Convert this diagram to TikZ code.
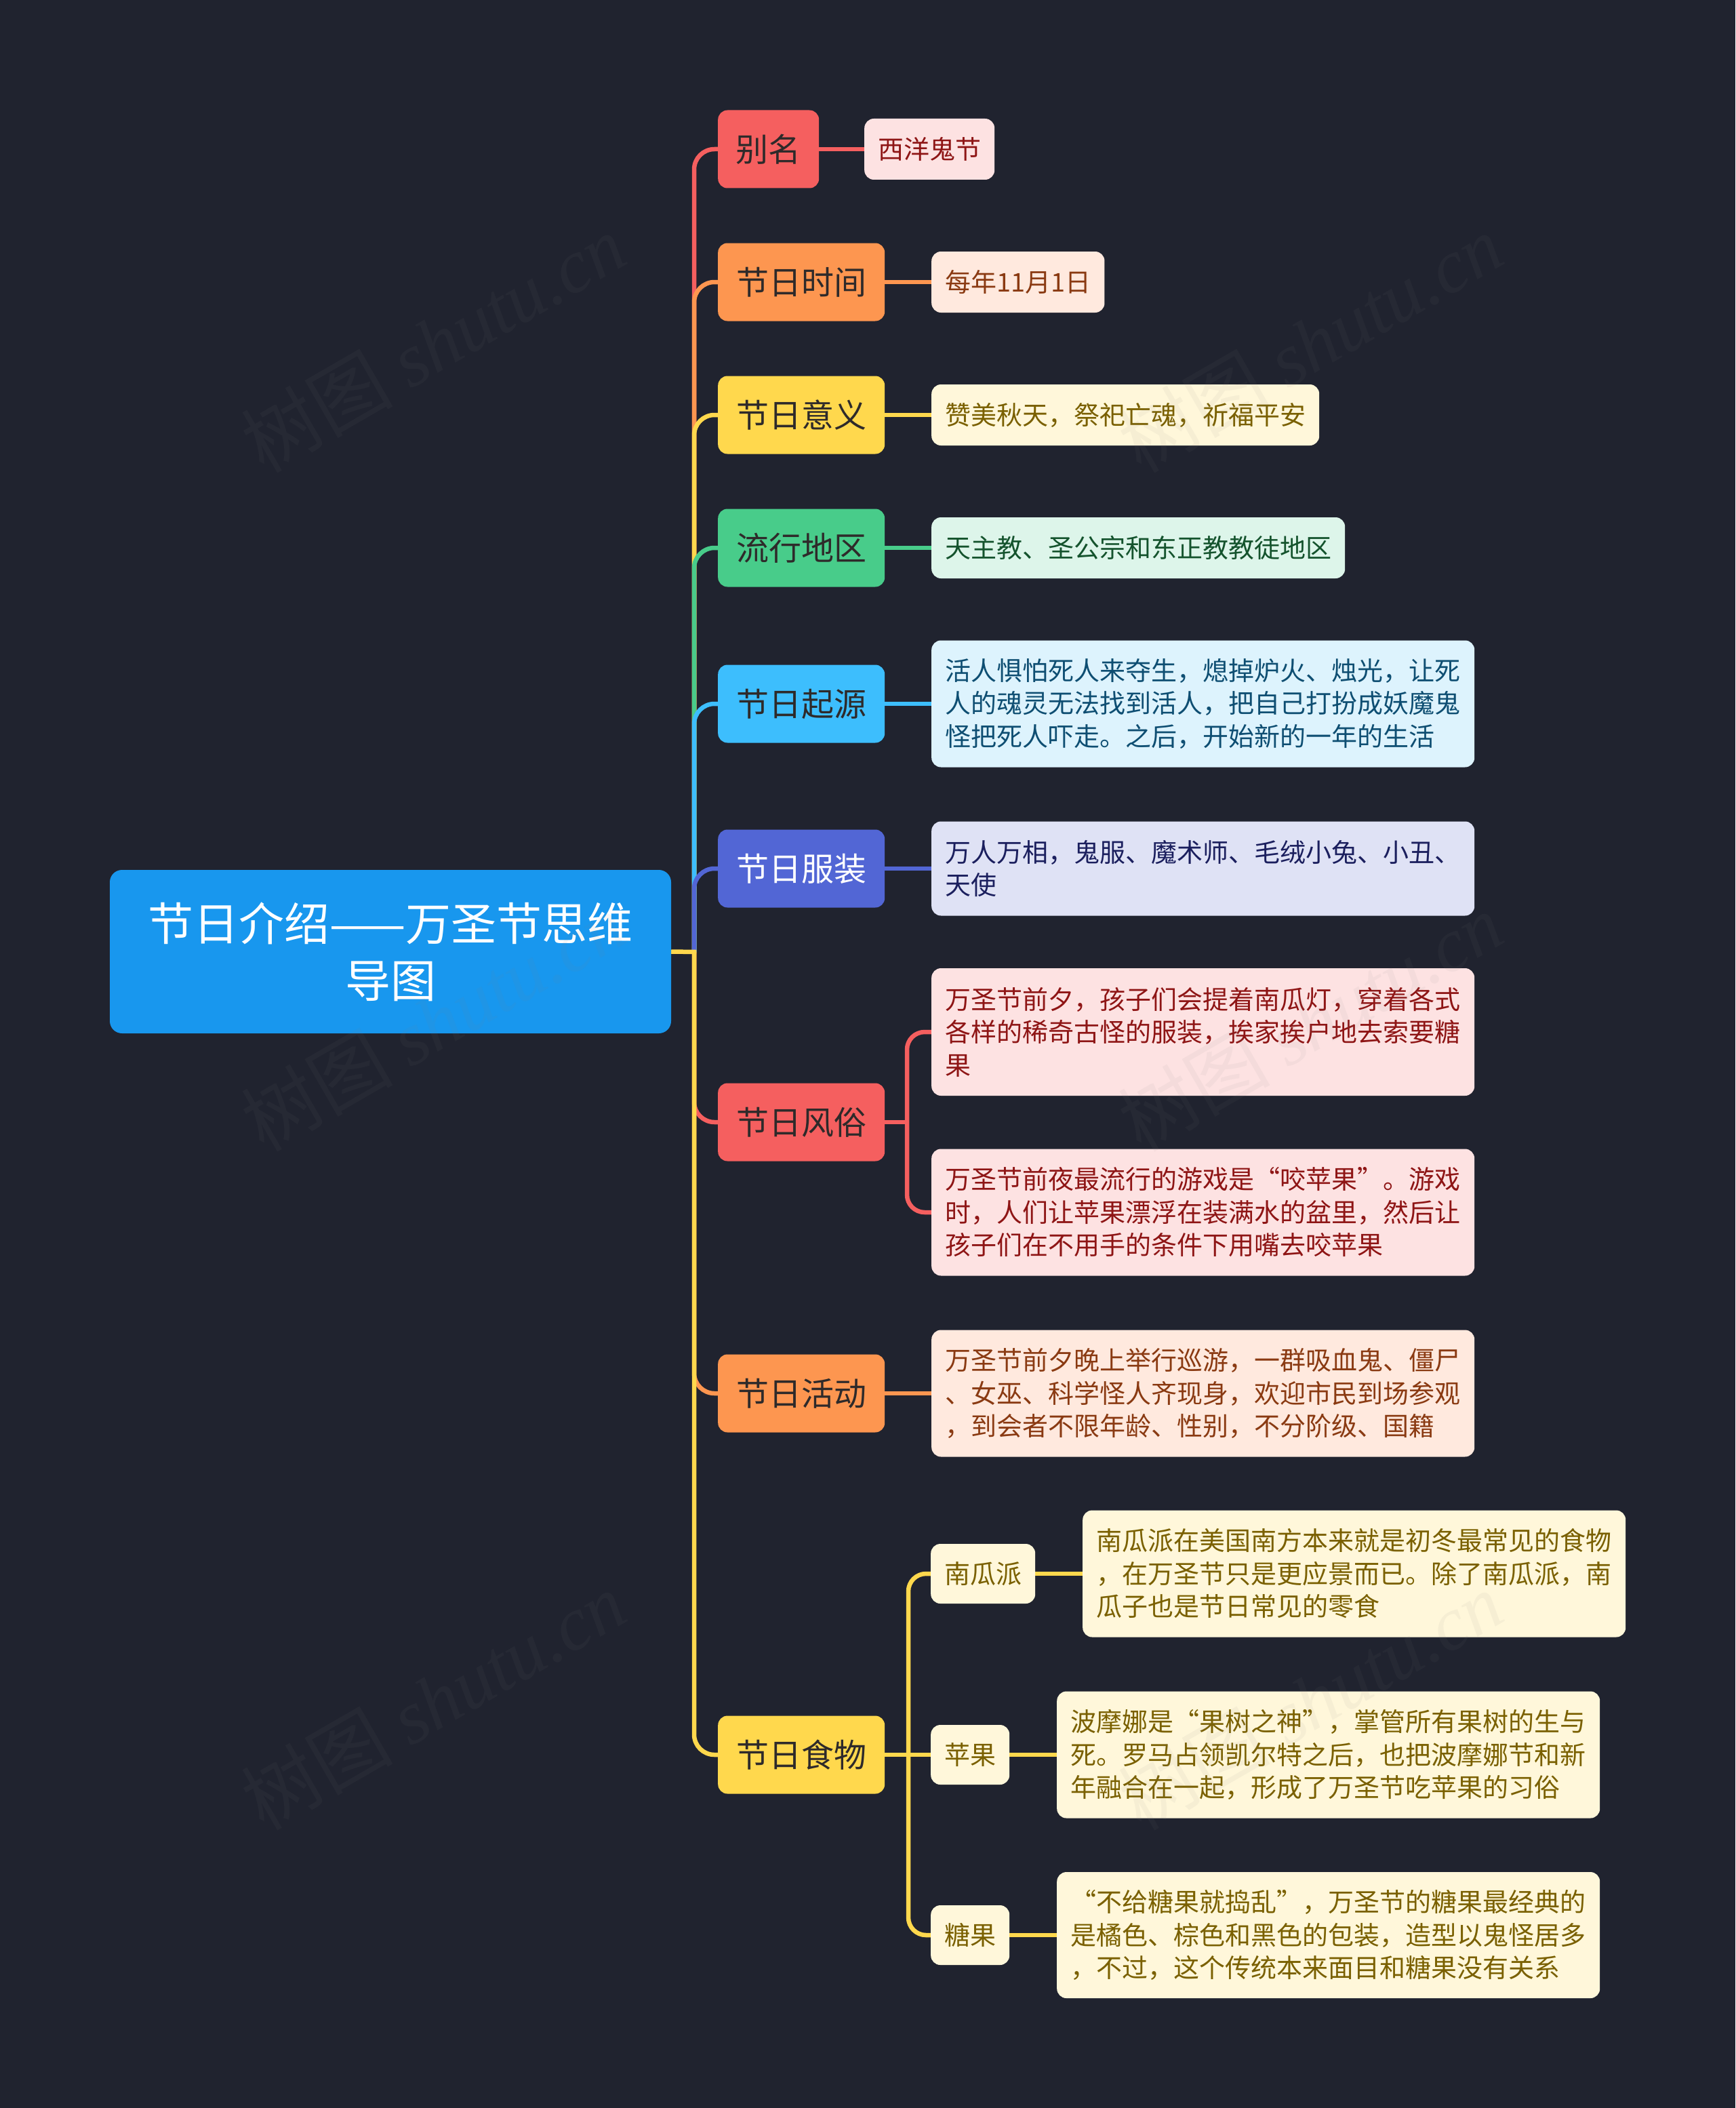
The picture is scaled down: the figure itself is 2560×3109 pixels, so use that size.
\documentclass[tikz,border=0pt]{standalone}
\usepackage{fontspec}
\setmainfont{Noto Sans CJK SC}
\newfontfamily\wmlatin{Liberation Serif}
\usetikzlibrary{backgrounds}
\definecolor{bgc}{HTML}{20232F}
\definecolor{cRed}{HTML}{F55F5F}
\definecolor{cOrange}{HTML}{FD9650}
\definecolor{cYellow}{HTML}{FFD84D}
\definecolor{cGreen}{HTML}{48CC8A}
\definecolor{cBlue}{HTML}{3DBEFD}
\definecolor{cIndigo}{HTML}{5266D5}
\definecolor{cRoot}{HTML}{1897EE}
\definecolor{lRed}{HTML}{FDE2E2}
\definecolor{lOrange}{HTML}{FFE9DE}
\definecolor{lYellow}{HTML}{FFF7DA}
\definecolor{lGreen}{HTML}{DDF5EA}
\definecolor{lBlue}{HTML}{DDF3FD}
\definecolor{lIndigo}{HTML}{DFE2F5}
\definecolor{tRed}{HTML}{8E1515}
\definecolor{tOrange}{HTML}{8A3A12}
\definecolor{tYellow}{HTML}{7A6000}
\definecolor{tGreen}{HTML}{14532D}
\definecolor{tBlue}{HTML}{0E4E72}
\definecolor{tIndigo}{HTML}{1B1F5E}
\definecolor{tDark}{HTML}{2E2A2A}
\begin{document}
\begin{tikzpicture}[x=1pt,y=-1pt,
  rootbox/.style={fill=cRoot, text=white, rounded corners=18pt, inner sep=0pt,
    minimum width=828pt, minimum height=241pt, align=center,
    font=\fontsize{67}{84}\selectfont},
  lone/.style={rounded corners=14pt, inner sep=0pt, minimum height=115pt,
    minimum width=246pt, anchor=west, text=tDark, font=\fontsize{48}{58}\selectfont},
  leaf/.style={rounded corners=14pt, inner xsep=20pt, inner ysep=0pt,
    minimum height=90pt, anchor=west, align=left, font=\fontsize{38}{48.5}\selectfont},
  wide/.style={leaf, text width=761pt},
  conn/.style={line width=6.5pt},
  wmark/.style={rotate=30, text=gray, opacity=0.07, font=\fontsize{112}{120}\selectfont}
]
\useasboundingbox (0,0) rectangle (2560,3109);

% root
\node[rootbox] (root) at (576,1403.5) {节日介绍——万圣节思维\\导图};

% level 1
\node[lone, fill=cRed, minimum width=149pt] (n1) at (1059,220) {别名};
\node[lone, fill=cOrange] (n2) at (1059,416) {节日时间};
\node[lone, fill=cYellow] (n3) at (1059,612) {节日意义};
\node[lone, fill=cGreen] (n4) at (1059,808) {流行地区};
\node[lone, fill=cBlue] (n5) at (1059,1038) {节日起源};
\node[lone, fill=cIndigo, text=white] (n6) at (1059,1281) {节日服装};
\node[lone, fill=cRed] (n7) at (1059,1655) {节日风俗};
\node[lone, fill=cOrange] (n8) at (1059,2055) {节日活动};
\node[lone, fill=cYellow] (n9) at (1059,2588) {节日食物};

% leaves
\node[leaf, fill=lRed, text=tRed] (a1) at (1275,220) {西洋鬼节};
\node[leaf, fill=lOrange, text=tOrange] (a2) at (1374,416) {每年11月1日};
\node[leaf, fill=lYellow, text=tYellow] (a3) at (1374,612) {赞美秋天，祭祀亡魂，祈福平安};
\node[leaf, fill=lGreen, text=tGreen] (a4) at (1374,808) {天主教、圣公宗和东正教教徒地区};
\node[wide, fill=lBlue, text=tBlue, minimum height=187pt] (a5) at (1374,1038)
  {活人惧怕死人来夺生，熄掉炉火、烛光，让死\\人的魂灵无法找到活人，把自己打扮成妖魔鬼\\怪把死人吓走。之后，开始新的一年的生活};
\node[wide, fill=lIndigo, text=tIndigo, minimum height=139pt] (a6) at (1374,1281)
  {万人万相，鬼服、魔术师、毛绒小兔、小丑、\\天使};
\node[wide, fill=lRed, text=tRed, minimum height=188pt] (f1) at (1374,1522)
  {万圣节前夕，孩子们会提着南瓜灯，穿着各式\\各样的稀奇古怪的服装，挨家挨户地去索要糖\\果};
\node[wide, fill=lRed, text=tRed, minimum height=187pt] (f2) at (1374,1788)
  {万圣节前夜最流行的游戏是“咬苹果”。游戏\\时，人们让苹果漂浮在装满水的盆里，然后让\\孩子们在不用手的条件下用嘴去咬苹果};
\node[wide, fill=lOrange, text=tOrange, minimum height=187pt] (a8) at (1374,2055)
  {万圣节前夕晚上举行巡游，一群吸血鬼、僵尸\\、女巫、科学怪人齐现身，欢迎市民到场参观\\，到会者不限年龄、性别，不分阶级、国籍};
\node[leaf, fill=lYellow, text=tYellow, minimum height=88pt] (s1) at (1373,2321) {南瓜派};
\node[leaf, fill=lYellow, text=tYellow, minimum height=88pt] (s2) at (1373,2588) {苹果};
\node[leaf, fill=lYellow, text=tYellow, minimum height=88pt] (s3) at (1373,2854) {糖果};
\node[wide, fill=lYellow, text=tYellow, minimum height=187pt] (d1) at (1597,2321)
  {南瓜派在美国南方本来就是初冬最常见的食物\\，在万圣节只是更应景而已。除了南瓜派，南\\瓜子也是节日常见的零食};
\node[wide, fill=lYellow, text=tYellow, minimum height=187pt] (d2) at (1559,2588)
  {波摩娜是“果树之神”，掌管所有果树的生与\\死。罗马占领凯尔特之后，也把波摩娜节和新\\年融合在一起，形成了万圣节吃苹果的习俗};
\node[wide, fill=lYellow, text=tYellow, minimum height=186pt] (d3) at (1559,2854)
  {“不给糖果就捣乱”，万圣节的糖果最经典的\\是橘色、棕色和黑色的包装，造型以鬼怪居多\\，不过，这个传统本来面目和糖果没有关系};

\coordinate (J) at (1024,1404);
\coordinate (K7) at (1338,1655);
\coordinate (K9) at (1340,2588);

\begin{scope}[on background layer]
\fill[bgc] (0,0) rectangle (2560,3109);
\draw[conn, cRed, rounded corners=30pt] (J) |- (n1.west);
\draw[conn, cRed] (n1.east) -- (a1.west);
\draw[conn, cOrange, rounded corners=30pt] (J) |- (n2.west);
\draw[conn, cOrange] (n2.east) -- (a2.west);
\draw[conn, cYellow, rounded corners=30pt] (J) |- (n3.west);
\draw[conn, cYellow] (n3.east) -- (a3.west);
\draw[conn, cGreen, rounded corners=30pt] (J) |- (n4.west);
\draw[conn, cGreen] (n4.east) -- (a4.west);
\draw[conn, cBlue, rounded corners=30pt] (J) |- (n5.west);
\draw[conn, cBlue] (n5.east) -- (a5.west);
\draw[conn, cIndigo, rounded corners=30pt] (J) |- (n6.west);
\draw[conn, cIndigo] (n6.east) -- (a6.west);
\draw[conn, cRed, rounded corners=30pt] (J) |- (n7.west);
\draw[conn, cRed] (n7.east) -- (K7);
\draw[conn, cRed, rounded corners=26pt] (K7) |- (f1.west);
\draw[conn, cRed, rounded corners=26pt] (K7) |- (f2.west);
\draw[conn, cOrange, rounded corners=30pt] (J) |- (n8.west);
\draw[conn, cOrange] (n8.east) -- (a8.west);
\draw[conn, cYellow, rounded corners=30pt] (J) |- (n9.west);
\draw[conn, cYellow] (n9.east) -- (K9);
\draw[conn, cYellow, rounded corners=26pt] (K9) |- (s1.west);
\draw[conn, cYellow] (K9) -- (s2.west);
\draw[conn, cYellow, rounded corners=26pt] (K9) |- (s3.west);
\draw[conn, cYellow] (s1.east) -- (d1.west);
\draw[conn, cYellow] (s2.east) -- (d2.west);
\draw[conn, cYellow] (s3.east) -- (d3.west);
\draw[conn, cYellow] (root.east) -- ([xshift=3.25pt]J);
\end{scope}

% watermarks
\foreach \wx/\wy [count=\i] in {639/506, 1933/506, 639/1507, 1933/1507, 639/2508, 1933/2508}
  \node[wmark] (wm\i) at (\wx,\wy) {树图 {\wmlatin\itshape shutu.cn}};
\end{tikzpicture}
\end{document}
